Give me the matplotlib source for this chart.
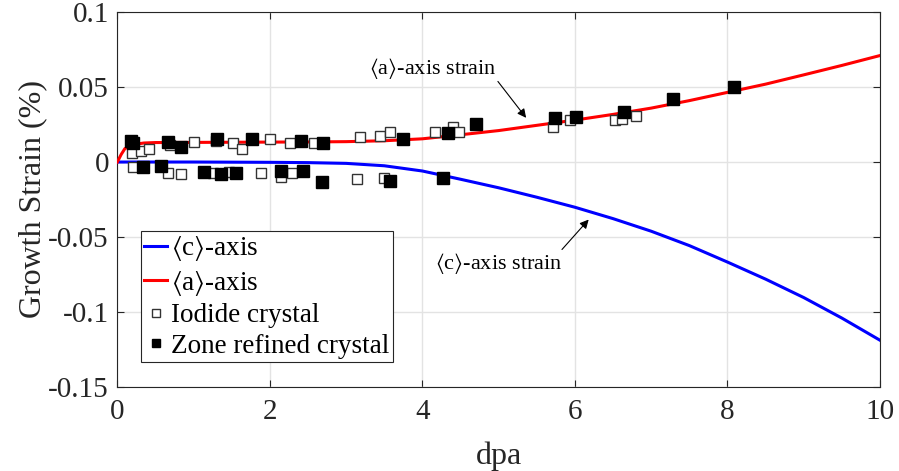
import numpy as np
import matplotlib
matplotlib.use('Agg')
import matplotlib.pyplot as plt

plt.rcParams['font.family'] = ['Liberation Serif', 'DejaVu Serif']
plt.rcParams['mathtext.fontset'] = 'stix'
plt.rcParams['axes.unicode_minus'] = False

# model curves
dpa_curve = [0, 0.05, 0.1, 0.2, 0.35, 0.5, 1, 1.5, 2, 2.5, 3, 3.5, 4, 4.5, 5,
             5.5, 6, 6.5, 7, 7.5, 8, 8.5, 9, 9.5, 10]
a_strain = [0, 0.005, 0.009, 0.0116, 0.0127, 0.013, 0.0131, 0.0132, 0.0133,
            0.0134, 0.0136, 0.0142, 0.0155, 0.0182, 0.021, 0.0245, 0.028,
            0.0318, 0.036, 0.041, 0.0465, 0.052, 0.0582, 0.0645, 0.0711]
c_strain = [0, 0, 0, 0, 0, 0, 0, -0.0001, -0.0002, -0.0004, -0.0009, -0.0025,
            -0.006, -0.0115, -0.0172, -0.0235, -0.0302, -0.0378, -0.0462,
            -0.0558, -0.0668, -0.0782, -0.0905, -0.1042, -0.1190]

# measured data
iodide_dpa = [0.19, 0.20, 0.31, 0.41, 0.67, 0.69, 0.84, 1.00, 1.26, 1.30, 1.46,
              1.52, 1.63, 1.89, 2.00, 2.15, 2.27, 2.29, 2.58, 3.14, 3.18, 3.44,
              3.49, 3.58, 4.17, 4.40, 4.48, 5.71, 5.93, 6.52, 6.62, 6.80]
iodide_strain = [0.0058, -0.003, 0.0075, 0.0085, -0.0076, 0.0113, -0.008,
                 0.0135, -0.0076, 0.014, -0.0064, 0.013, 0.0087, -0.0076,
                 0.0151, -0.0098, 0.013, -0.007, 0.013, -0.0113, 0.0165,
                 0.0173, -0.0109, 0.020, 0.0198, 0.0235, 0.0202, 0.0235,
                 0.028, 0.028, 0.0285, 0.0307]
zone_dpa = [0.18, 0.21, 0.34, 0.57, 0.66, 0.83, 1.14, 1.31, 1.36, 1.55, 1.77,
            2.15, 2.41, 2.43, 2.69, 2.70, 3.57, 3.75, 4.27, 4.34, 4.70, 5.74,
            6.02, 6.64, 7.29, 8.08]
zone_strain = [0.0142, 0.0125, -0.003, -0.0027, 0.0135, 0.0098, -0.0064,
               0.0153, -0.0082, -0.0076, 0.0151, -0.0058, 0.0142, -0.0058,
               -0.0131, 0.0129, -0.0127, 0.0151, -0.0109, 0.0195, 0.0251,
               0.0291, 0.0298, 0.0336, 0.0418, 0.0498]

fig = plt.figure(figsize=(8.99, 4.71), dpi=100)
ax = fig.add_axes([0.1305, 0.179, 0.8484, 0.795])

ax.plot(dpa_curve, c_strain, color='#0000ff', lw=2.2, label=r'$\langle$c$\rangle$-axis', zorder=3)
ax.plot(dpa_curve, a_strain, color='#ff0000', lw=2.2, label=r'$\langle$a$\rangle$-axis', zorder=3)
ax.plot(iodide_dpa, iodide_strain, 's', ms=7.5, mfc='white', mec='#333333', mew=1.0,
        label='Iodide crystal', zorder=4)
ax.plot(zone_dpa, zone_strain, 's', ms=8, mfc='black', mec='black',
        label='Zone refined crystal', zorder=5)

# annotations: text and arrows placed separately
arrow = dict(arrowstyle='-|>', color='black', lw=0.8, mutation_scale=13,
             shrinkA=0, shrinkB=0)
ax.text(4.13, 0.0625, r'$\langle$a$\rangle$-axis strain', fontsize=16,
        ha='center', va='center')
ax.annotate('', xy=(5.36, 0.0295), xytext=(4.99, 0.0538), arrowprops=arrow)
ax.text(5.0, -0.0675, r'$\langle$c$\rangle$-axis strain', fontsize=16,
        ha='center', va='center')
ax.annotate('', xy=(6.18, -0.0384), xytext=(5.83, -0.0584), arrowprops=arrow)

ax.set_xlim(0, 10)
ax.set_ylim(-0.15, 0.1)
ax.set_xticks([0, 2, 4, 6, 8, 10])
ax.set_yticks([-0.15, -0.1, -0.05, 0, 0.05, 0.1])
ax.set_yticklabels(['-0.15', '-0.1', '-0.05', '0', '0.05', '0.1'])
ax.tick_params(direction='in', length=5, width=0.8, labelsize=21, colors='#262626',
               top=True, right=True, pad=6)
ax.tick_params(axis='x', pad=9)
for s in ax.spines.values():
    s.set_color('#262626')
    s.set_linewidth(0.8)
ax.grid(True, color='#e3e3e3', lw=1.0)
ax.set_axisbelow(True)

ax.set_xlabel('dpa', fontsize=23, color='#262626', labelpad=12)
ax.set_ylabel('Growth Strain (%)', fontsize=23, color='#262626', labelpad=1)

leg = ax.legend(loc='lower left', bbox_to_anchor=(0.031, 0.066), borderaxespad=0,
                fontsize=19.5, handlelength=0.85, handletextpad=0.15, labelspacing=0.2,
                borderpad=0.12, fancybox=False, framealpha=1, edgecolor='#262626',
                markerscale=0.75)
leg.get_frame().set_linewidth(0.8)

plt.savefig('out.png', dpi=100)
